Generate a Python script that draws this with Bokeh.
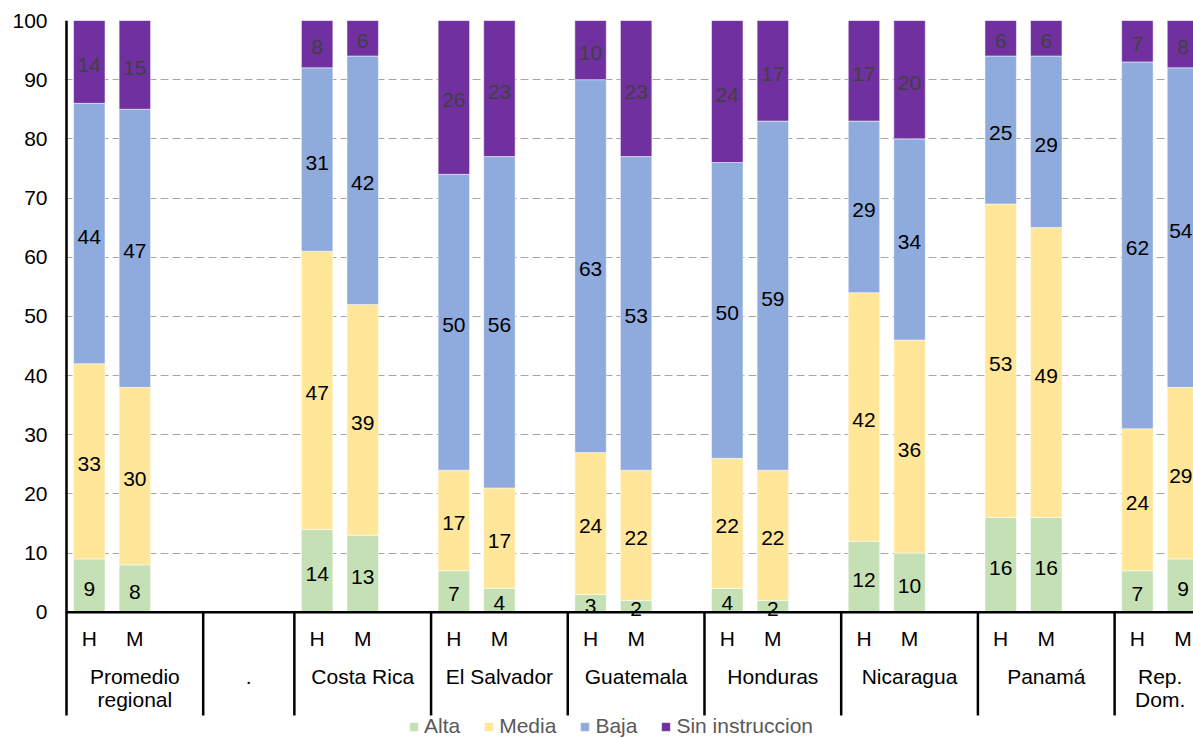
from bokeh.plotting import figure
from bokeh.models import ColumnDataSource, Range1d, FixedTicker, Legend, LegendItem
from bokeh.core.properties import value
from bokeh.embed import file_html
from bokeh.resources import INLINE

# ---------------- data ----------------
groups = ["Promedio\nregional", ".", "Costa Rica", "El Salvador", "Guatemala",
          "Honduras", "Nicaragua", "Panamá", "Rep.\nDom."]
group_subs = [["H", "M", ""], ["", ""], ["H", "M", ""], ["H", "M", ""], ["H", "M", ""],
              ["H", "M", ""], ["H", "M", ""], ["H", "M", ""], ["H", "M"]]
bar_groups = ["Promedio\nregional", "Costa Rica", "El Salvador", "Guatemala",
              "Honduras", "Nicaragua", "Panamá", "Rep.\nDom."]
series = ["Alta", "Media", "Baja", "Sin instruccion"]

alta_h = [9, 14, 7, 3, 4, 12, 16, 7]
alta_m = [8, 13, 4, 2, 2, 10, 16, 9]
media_h = [33, 47, 17, 24, 22, 42, 53, 24]
media_m = [30, 39, 17, 22, 22, 36, 49, 29]
baja_h = [44, 31, 50, 63, 50, 29, 25, 62]
baja_m = [47, 42, 56, 53, 59, 34, 29, 54]
sin_h = [14, 8, 26, 10, 24, 17, 6, 7]
sin_m = [15, 6, 23, 23, 17, 20, 6, 8]

y_ticks = [0, 10, 20, 30, 40, 50, 60, 70, 80, 90, 100]

# ---------------- styling / layout ----------------
colors = ["#c5e0b4", "#ffe699", "#8faadc", "#7030a0"]
label_colors = ["#000000", "#000000", "#000000", "#404040"]
FONT = "Liberation Sans"
FS_PX = 21
FS = f"{FS_PX}px"
FIG_W, FIG_H = 1193, 738
LEFT, TOP = 64, 20
SLOT_PX = 45.57
PX_PER_UNIT = 5.917
AXIS_GAP_PX = 2.0

frame_w = FIG_W - LEFT
frame_h = FIG_H - TOP
x0 = -AXIS_GAP_PX / SLOT_PX
x1 = x0 + frame_w / SLOT_PX
y1 = 100
y0 = y1 - frame_h / PX_PER_UNIT

SUB_Y = -4.44
GRP_Y = -10.95
LINE_STEP = 3.85
SEP_BOTTOM = -17.45

# ---------------- slot positions ----------------
slot_pos = {}
sub_x, sub_t = [], []
grp_x, grp_y, grp_t = [], [], []
bounds = []
slot = 0
for g, subs in zip(groups, group_subs):
    start = slot
    for s in subs:
        if s:
            slot_pos[(g, s)] = slot + 0.5
            sub_x.append(slot + 0.5)
            sub_t.append(s)
        slot += 1
    center = (start + slot) / 2
    for i, line in enumerate(g.split("\n")):
        grp_x.append(center)
        grp_y.append(GRP_Y - i * LINE_STEP)
        grp_t.append(line)
    bounds.append(start)

xs, a, m, b, s_ = [], [], [], [], []
for i, g in enumerate(bar_groups):
    xs.append(slot_pos[(g, "H")])
    a.append(alta_h[i]); m.append(media_h[i]); b.append(baja_h[i]); s_.append(sin_h[i])
    xs.append(slot_pos[(g, "M")])
    a.append(alta_m[i]); m.append(media_m[i]); b.append(baja_m[i]); s_.append(sin_m[i])

src = ColumnDataSource(dict(x=xs, alta=a, media=m, baja=b, sin=s_))

# label positions (kept inside the visible area)
lx, ly, lt, lc = [], [], [], []
for j in range(len(xs)):
    base = 0
    for k, col in enumerate((a, m, b, s_)):
        v = col[j]
        t = str(v)
        half = (len(t) * 0.556 * FS_PX / 2 + 1) / SLOT_PX
        lx.append(min(xs[j], x1 - half)); ly.append(base + v / 2); lt.append(t)
        lc.append(label_colors[k])
        base += v
lab_src = ColumnDataSource(dict(x=lx, y=ly, t=lt, c=lc))

# ---------------- figure ----------------
p = figure(width=FIG_W, height=FIG_H, output_backend="svg", toolbar_location=None,
           x_range=Range1d(x0, x1), y_range=Range1d(y0, y1),
           min_border_left=LEFT, min_border_top=TOP, min_border_right=0,
           min_border_bottom=0)
p.outline_line_color = None
p.xaxis.visible = False
p.xgrid.visible = False

p.yaxis.ticker = FixedTicker(ticks=y_ticks)
p.yaxis.axis_line_color = None
p.yaxis.major_tick_line_color = None
p.yaxis.minor_tick_line_color = None
p.yaxis.major_label_standoff = 11
p.yaxis.major_label_text_font = FONT
p.yaxis.major_label_text_font_size = FS
p.yaxis.major_label_text_color = "#000000"

p.ygrid.ticker = FixedTicker(ticks=y_ticks)
p.ygrid.grid_line_color = "#a6a6a6"
p.ygrid.grid_line_dash = "8 4"
p.ygrid.grid_line_width = 1.2

rs = p.vbar_stack(["alta", "media", "baja", "sin"], x="x", width=0.69, color=colors,
                  line_color="white", line_width=0.5, source=src)

p.text(x="x", y="y", text="t", source=lab_src, text_font=value(FONT),
       text_font_size=FS, text_color="c", text_align="center",
       text_baseline="middle", y_offset=3)

# axis lines
p.segment(x0=[0], y0=[0], x1=[x1], y1=[0], line_color="black", line_width=2.5)
p.segment(x0=[0], y0=[y1], x1=[0], y1=[SEP_BOTTOM], line_color="black", line_width=2.5)
sep = [bd for bd in bounds if bd > 0]
p.segment(x0=sep, y0=[0] * len(sep), x1=sep, y1=[SEP_BOTTOM] * len(sep),
          line_color="black", line_width=2.5)

# category labels
p.text(x=sub_x, y=[SUB_Y] * len(sub_x), text=sub_t, text_font=value(FONT),
       text_font_size=FS, text_color="#000000", text_align="center",
       text_baseline="middle")
p.text(x=grp_x, y=grp_y, text=grp_t, text_font=value(FONT),
       text_font_size=FS, text_color="#000000", text_align="center",
       text_baseline="middle")

legend = Legend(items=[LegendItem(label=series[i], renderers=[rs[i]]) for i in range(4)],
                location=(344, 0), orientation="horizontal")
legend.label_text_font = FONT
legend.label_text_font_size = FS
legend.label_text_color = "#595959"
legend.glyph_width = 11
legend.glyph_height = 11
legend.label_standoff = 5
legend.spacing = 23
legend.padding = 0
legend.margin = 0
legend.border_line_color = None
legend.background_fill_alpha = 0
p.add_layout(legend)

open("out.html", "w").write(file_html(p, INLINE))
